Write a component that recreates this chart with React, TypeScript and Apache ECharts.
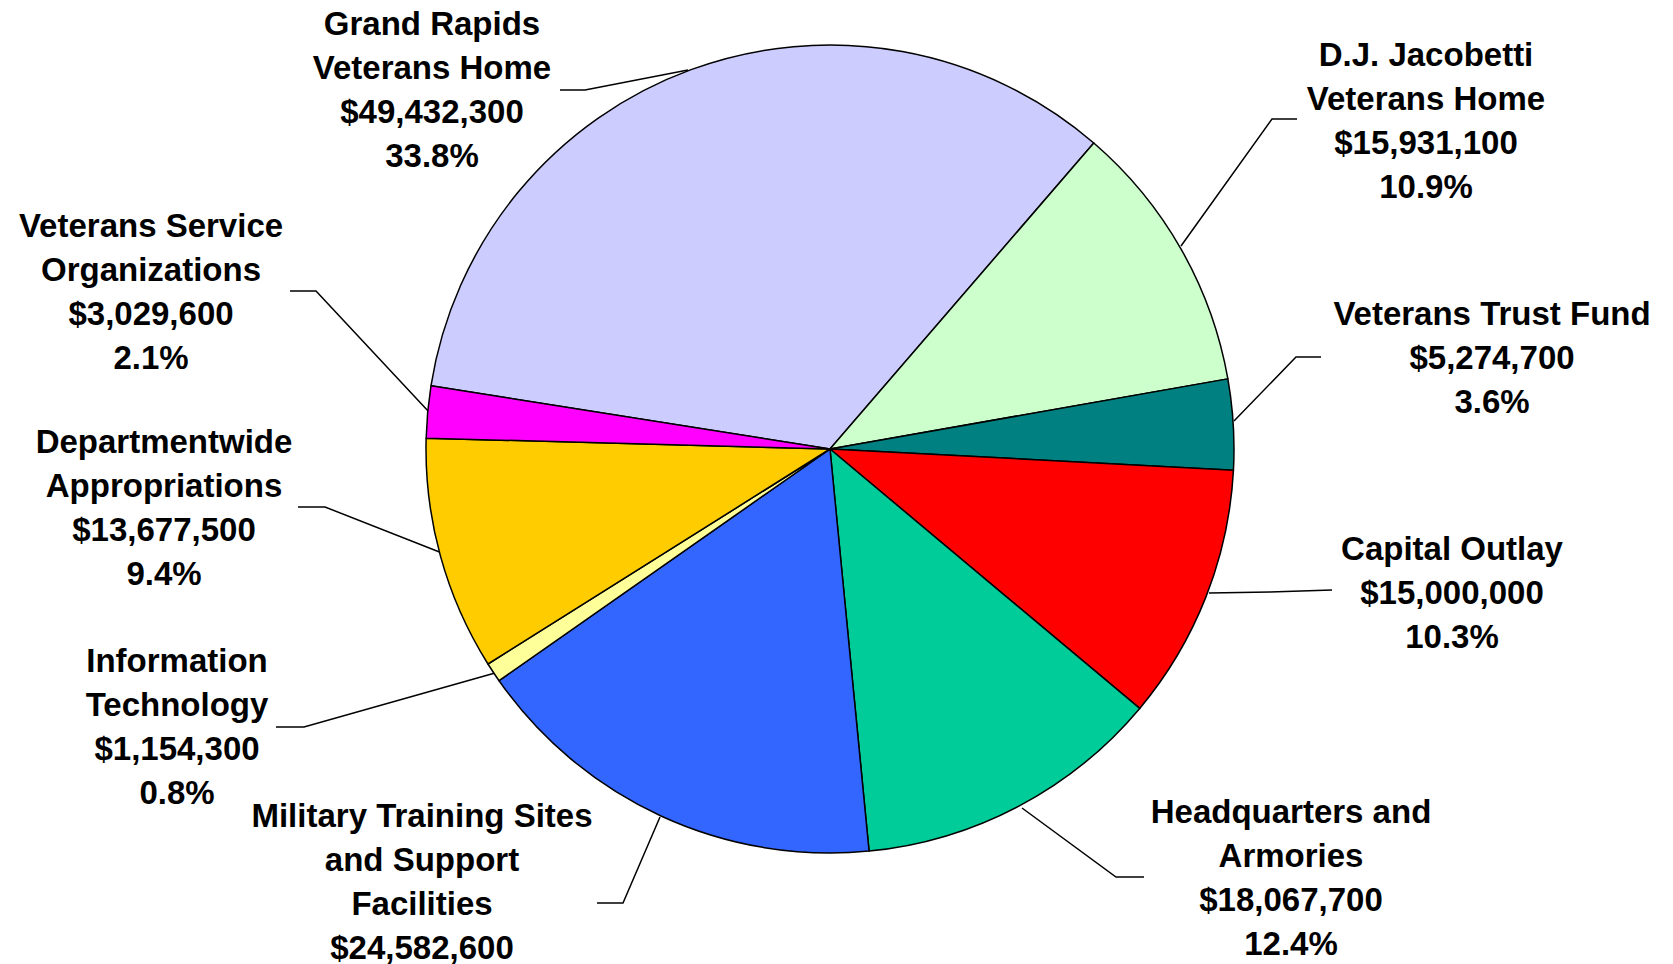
import React, { useEffect, useRef } from "react";
import * as echarts from "echarts";

const categories = [
  "Grand Rapids\nVeterans Home",
  "D.J. Jacobetti\nVeterans Home",
  "Veterans Trust Fund",
  "Capital Outlay",
  "Headquarters and\nArmories",
  "Military Training Sites\nand Support\nFacilities",
  "Information\nTechnology",
  "Departmentwide\nAppropriations",
  "Veterans Service\nOrganizations",
];
const values = [49432300, 15931100, 5274700, 15000000, 18067700, 24582600, 1154300, 13677500, 3029600];
const colors = ["#CCCCFF", "#CCFFCC", "#008080", "#FF0000", "#00CC99", "#3366FF", "#FFFF99", "#FFCC00", "#FF00FF"];

// label placement (center x, first line center y) and leader line points
const labelPos: [number, number][] = [
  [432, 23],
  [1426, 54],
  [1492, 313],
  [1452, 548],
  [1291, 811],
  [422, 815],
  [177, 660],
  [164, 441],
  [151, 225],
];
const leaderPts: number[][][] = [
  [[688, 70], [585, 90], [560, 90]],
  [[1181, 246], [1272, 119], [1297, 119]],
  [[1234, 421], [1296, 357], [1321, 357]],
  [[1209, 593], [1270, 592], [1332, 590]],
  [[1022, 808], [1116, 877], [1144, 877]],
  [[660, 817], [623, 903], [597, 903]],
  [[495, 673], [304, 727], [276, 727]],
  [[442, 553], [325, 507], [298, 507]],
  [[429, 412], [316, 291], [290, 291]],
];

const LINE_H = 44;

export default function App() {
  const ref = useRef<HTMLDivElement>(null);
  useEffect(() => {
    if (!ref.current) return;
    const chart = echarts.init(ref.current, null, { renderer: "svg" });
    const total = values.reduce((a, b) => a + b, 0);
    chart.setOption({
      animation: false,
      backgroundColor: "#ffffff",
      series: [
        {
          type: "pie",
          center: [830, 449],
          radius: 404,
          startAngle: 171,
          clockwise: true,
          avoidLabelOverlap: false,
          data: categories.map((c, i) => ({
            name: c,
            value: values[i],
            itemStyle: { color: colors[i] },
          })),
          itemStyle: { borderColor: "#000000", borderWidth: 1.5 },
          label: {
            show: true,
            position: "outside",
            color: "#000000",
            fontFamily: "'Liberation Sans', Arial, sans-serif",
            fontWeight: "bold",
            fontSize: 33,
            lineHeight: LINE_H,
            align: "center",
            formatter: (p: any) =>
              p.name +
              "\n$" +
              p.value.toLocaleString("en-US") +
              "\n" +
              ((p.value / total) * 100).toFixed(1) +
              "%",
          },
          labelLine: {
            show: true,
            lineStyle: { color: "#000000", width: 1.5 },
          },
          labelLayout: (params: any) => {
            const i = params.dataIndex;
            return {
              x: labelPos[i][0],
              y: labelPos[i][1] - LINE_H / 2,
              align: "center",
              verticalAlign: "top",
              labelLinePoints: leaderPts[i],
            };
          },
          emphasis: { disabled: true },
        },
      ],
    });
    return () => chart.dispose();
  }, []);
  return (
    <div
      ref={ref}
      style={{ position: "absolute", left: 0, top: 0, width: 1673, height: 964 }}
    />
  );
}
